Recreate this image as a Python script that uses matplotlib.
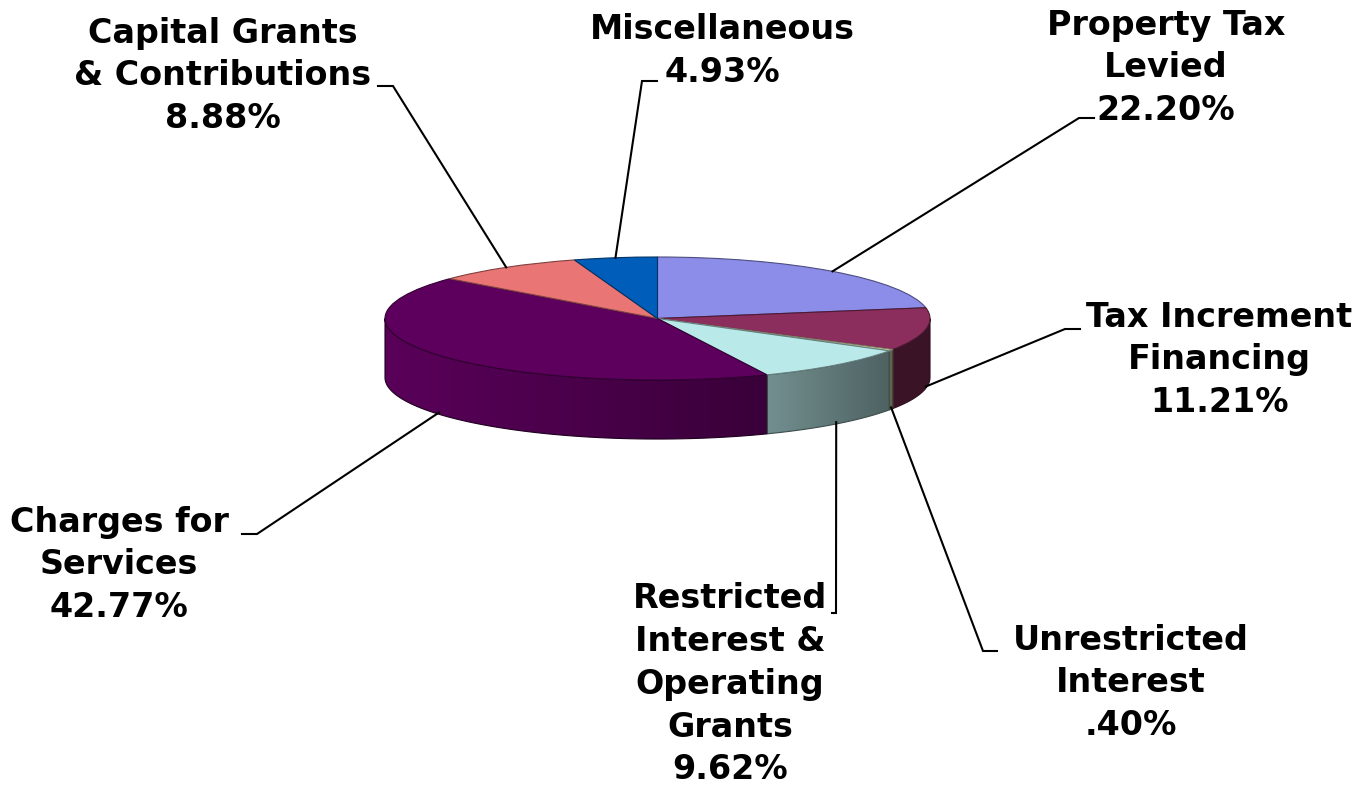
import numpy as np
import matplotlib.pyplot as plt
from matplotlib.colors import to_rgb
from matplotlib.patches import Polygon

# slices, clockwise from 12 o'clock
labels = ['Property Tax\nLevied', 'Tax Increment\nFinancing', 'Unrestricted\nInterest',
          'Restricted\nInterest &\nOperating\nGrants', 'Charges for\nServices',
          'Capital Grants\n& Contributions', 'Miscellaneous']
pct_text = ['22.20%', '11.21%', '.40%', '9.62%', '42.77%', '8.88%', '4.93%']
values = [22.20, 11.21, 0.40, 9.62, 42.77, 8.88, 4.93]

top_colors = ['#8c8ce9', '#8c2e5d', '#e9e9ba', '#bae9e9', '#5d005d', '#e97575', '#005dba']
side_colors = ['#9999ff', '#993366', '#ffffcc', '#ccffff', '#660066', '#ff8080', '#0066cc']

# label layout in pixels (first-line baseline) and leader elbows
label_pos = [(1166, 37), (1219, 329), (1131, 652), (730, 613), (119, 534), (223, 45), (722, 40)]
elbows = [((1094, 118), (1079, 118)), ((1080, 329), (1065, 329)), ((997, 651), (983, 651)),
          ((832, 613), (836, 613)), ((242, 534), (257, 534)), ((378, 86), (393, 86)),
          ((657, 81), (642, 81))]
line_px = 41.6

W, H = 1372, 785
cx, cy = 657.5, 318.5   # pie centre in pixels
a, b = 272.5, 61.5      # ellipse half axes in pixels
depth = 0.96            # thickness in y units


def to_data(px, py):
    return (px - cx) / a, (cy - py) / b


fig = plt.figure(figsize=(W / 100, H / 100), dpi=100)
ax = fig.add_axes([0, 0, 1, 1])

# top surface
wedges, _ = ax.pie(values, colors=top_colors, startangle=90, counterclock=False,
                   radius=1, center=(0, 0), wedgeprops=dict(linewidth=0.8, zorder=3))
for w, c in zip(wedges, top_colors):
    w.set_edgecolor(np.array(to_rgb(c)) * 0.55)

# side wall of the front half, shaded from left to right
cum = np.concatenate([[0], np.cumsum(values)]) / sum(values) * 360
for i, c in enumerate(side_colors):
    lo, hi = max(cum[i], 90), min(cum[i + 1], 270)
    if hi <= lo:
        continue
    th = np.radians(np.linspace(lo, hi, 120))
    xs, ys = np.sin(th), np.cos(th)
    pts = np.column_stack([np.concatenate([xs, xs[::-1]]),
                           np.concatenate([ys, ys[::-1] - depth])])
    poly = Polygon(pts, closed=True, facecolor='none',
                   edgecolor=np.array(to_rgb(c)) * 0.3, linewidth=0.8, zorder=2)
    ax.add_patch(poly)
    xg = np.linspace(xs.min(), xs.max(), 200)
    f = np.interp(xg, [-1, 0.405, 0.835, 1], [0.88, 0.56, 0.39, 0.38])
    rgb = np.array(to_rgb(c))[None, None, :] * f[None, :, None]
    rgb = np.repeat(rgb, 2, axis=0)
    im = ax.imshow(rgb, extent=(xg[0], xg[-1], ys.min() - depth, ys.max()),
                   aspect='auto', interpolation='bilinear', zorder=1.5)
    im.set_clip_path(poly)

# labels and leader lines
mid = (cum[:-1] + cum[1:]) / 2
for i in range(len(values)):
    t = np.radians(mid[i])
    axx, axy = np.sin(t), np.cos(t)
    if axy < 0:
        axy -= depth * 0.97
    (p0x, p0y), (p1x, p1y) = elbows[i]
    x0, y0 = to_data(p0x, p0y)
    x1, y1 = to_data(p1x, p1y)
    ax.plot([x0, x1, axx], [y0, y1, axy], color='black', lw=1.5, zorder=4,
            solid_joinstyle='miter')
    s = labels[i] + '\n' + pct_text[i]
    n = s.count('\n')
    # va='baseline' puts the last line on the anchor
    lx, ly = to_data(label_pos[i][0], label_pos[i][1] + n * line_px)
    ax.text(lx, ly, s, ha='center', va='baseline',
            multialignment='center', fontsize=24, fontweight='bold',
            family=['DejaVu Sans'], linespacing=1.375, zorder=5)

ax.set_aspect('auto')
ax.set_xlim(to_data(0, 0)[0], to_data(W, 0)[0])
ax.set_ylim(to_data(0, H)[1], to_data(0, 0)[1])
ax.axis('off')

fig.savefig('out.png', dpi=100)
